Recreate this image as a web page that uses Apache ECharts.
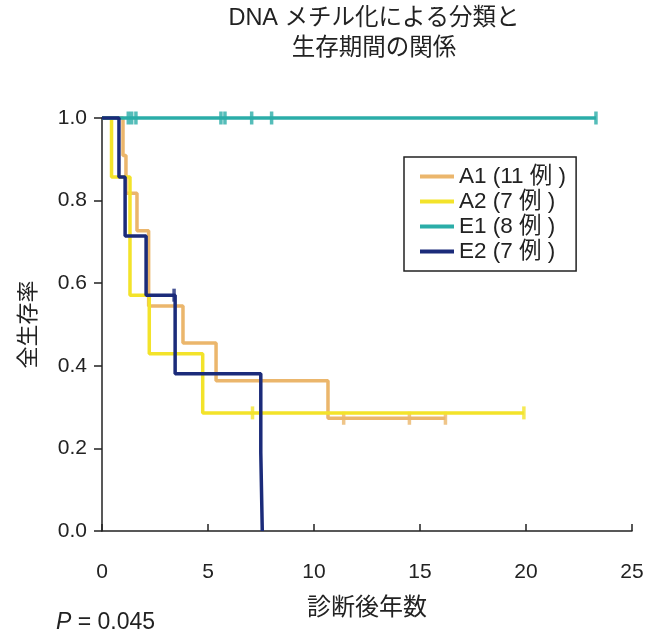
<!DOCTYPE html>
<html>
<head>
<meta charset="utf-8">
<script src="https://cdn.jsdelivr.net/npm/echarts@6/dist/echarts.min.js"></script>
<style>
html,body{margin:0;padding:0;background:#fff;}
#c{width:649px;height:639px;}
</style>
</head>
<body>
<div id="c"></div>
<script>
// ---- data ----
const seriesNames = ['A1 (11 例 )', 'A2 (7 例 )', 'E1 (8 例 )', 'E2 (7 例 )'];
const a1Times = [0, 0.99, 1.13, 1.65, 2.2, 3.82, 5.38, 10.66, 16.2];
const a1Surv  = [1, 0.909, 0.818, 0.727, 0.545, 0.455, 0.364, 0.273, 0.273];
const a1Censor = [11.4, 14.5, 16.2];
const a2Times = [0, 0.45, 1.32, 2.23, 4.75, 19.9];
const a2Surv  = [1, 0.857, 0.571, 0.429, 0.286, 0.286];
const a2Censor = [7.1, 19.9];
const e1Times = [0, 23.3];
const e1Surv  = [1, 1];
const e1Censor = [1.24, 1.4, 1.6, 5.61, 5.8, 7.06, 8.0, 23.3];
const e2Times = [0, 0.8, 1.09, 2.08, 3.45, 7.49, 7.56];
const e2Surv  = [1, 0.857, 0.714, 0.571, 0.381, 0.190, 0];
const e2Censor = [3.4];
const xTicks = [0, 5, 10, 15, 20, 25];
const yTicks = [0, 0.2, 0.4, 0.6, 0.8, 1.0];

const colors = ['#EBB66C', '#F3E32A', '#2BADA8', '#1B2B7A'];
const FONT = '"Liberation Sans", Arial, "Noto Sans CJK JP", sans-serif';

function survAt(times, surv, t) {
  let v = surv[0];
  for (let i = 0; i < times.length; i++) { if (times[i] <= t) v = surv[i]; }
  return v;
}
const groups = [
  [a1Times, a1Surv, a1Censor],
  [a2Times, a2Surv, a2Censor],
  [e1Times, e1Surv, e1Censor],
  [e2Times, e2Surv, e2Censor]
];

const series = [];
groups.forEach((g, i) => {
  series.push({
    name: seriesNames[i],
    type: 'line',
    step: 'end',
    symbol: 'none',
    clip: false,
    data: g[0].map((t, k) => [t, g[1][k]]),
    lineStyle: { color: colors[i], width: 3.5 },
    itemStyle: { color: colors[i] },
    z: 2 + i
  });
});
groups.forEach((g, i) => {
  series.push({
    name: 'censor' + i,
    type: 'scatter',
    symbol: 'rect',
    symbolSize: [3.5, 13],
    clip: false,
    data: g[2].map(t => [t, survAt(g[0], g[1], t)]),
    itemStyle: { color: colors[i] },
    z: 2 + i
  });
});

const chart = echarts.init(document.getElementById('c'));
chart.setOption({
  backgroundColor: '#fff',
  animation: false,
  textStyle: { fontFamily: FONT },
  grid: { left: 102, right: 17, top: 118, bottom: 108 },
  legend: {
    data: seriesNames.map(n => ({ name: n, icon: 'rect' })),
    orient: 'vertical',
    left: 404, top: 157,
    padding: [8, 10, 8, 16],
    itemWidth: 34, itemHeight: 4, itemGap: 2,
    borderColor: '#222', borderWidth: 1.5, borderRadius: 0,
    textStyle: { fontSize: 22.5, color: '#222', fontFamily: FONT, lineHeight: 23 },
    selectedMode: false
  },
  xAxis: {
    type: 'value', min: 0, max: 25, interval: 5,
    offset: 17,
    name: '診断後年数', nameLocation: 'middle', nameGap: 48,
    nameTextStyle: { fontSize: 24, color: '#222', fontFamily: FONT },
    axisLine: { show: true, lineStyle: { color: '#222', width: 1.5 } },
    axisTick: { show: true, inside: true, length: 7, lineStyle: { color: '#222', width: 1.5 } },
    axisLabel: { fontSize: 21, color: '#222', margin: 14 },
    splitLine: { show: false }
  },
  yAxis: {
    type: 'value', min: 0, max: 1, interval: 0.2,
    name: '全生存率', nameLocation: 'middle', nameGap: 62,
    nameTextStyle: { fontSize: 22, color: '#222', fontFamily: FONT },
    axisLine: { show: true, lineStyle: { color: '#222', width: 1.5 } },
    axisTick: { show: true, inside: false, length: 8, lineStyle: { color: '#222', width: 1.5 } },
    axisLabel: { fontSize: 21, color: '#222', margin: 15,
      formatter: v => v.toFixed(1) },
    splitLine: { show: false }
  },
  graphic: [
    { type: 'text', x: 374, y: 19, style: { text: 'DNA メチル化による分類と', fontSize: 23.5, fontFamily: FONT, fill: '#222', align: 'center', verticalAlign: 'middle' } },
    { type: 'text', x: 374, y: 49, style: { text: '生存期間の関係', fontSize: 23.5, fontFamily: FONT, fill: '#222', align: 'center', verticalAlign: 'middle' } },
    { type: 'text', x: 56, y: 623, style: {
      text: '{i|P} = 0.045',
      rich: { i: { fontStyle: 'italic', fontSize: 23, fontFamily: FONT, fill: '#222' } },
      fontSize: 23, fontFamily: FONT, fill: '#222', verticalAlign: 'middle' } }
  ],
  series: series
});
</script>
</body>
</html>
